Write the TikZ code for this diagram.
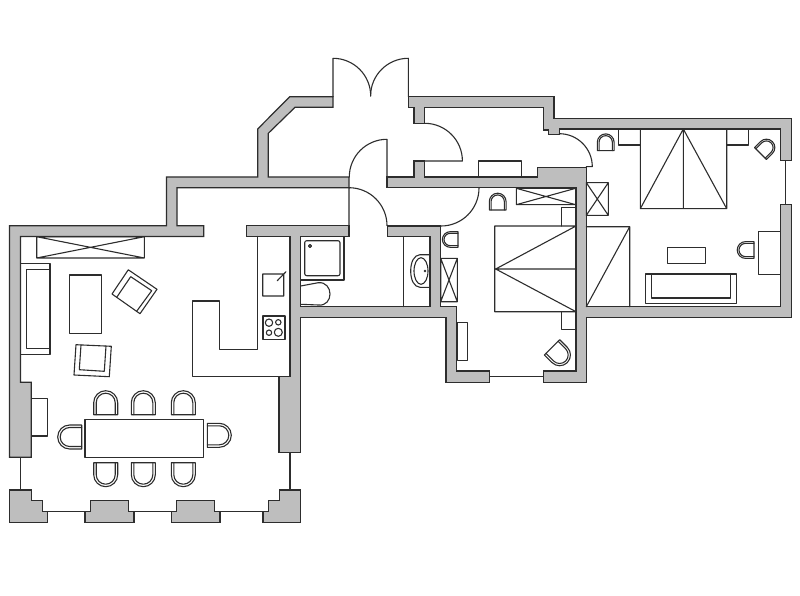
\documentclass[tikz,border=0pt]{standalone}
\definecolor{wallgray}{RGB}{190,190,190}
\definecolor{inkline}{RGB}{45,45,45}
\tikzset{
	wall/.style={draw=inkline,fill=wallgray,line width=1.2pt,line join=miter},
	furn/.style={draw=inkline,line width=1.1pt},
	chair/.pic={
		\draw [furn,fill=white] (-12,0)--(-12,-12) arc (180:360:12)--(12,0)--cycle;
		\draw [furn] (-9.5,0)--(-9.5,-12) arc (180:360:9.5)--(9.5,0);
	}
}
\begin{document}
\begin{tikzpicture}[x=1pt,y=-1pt,line join=round,line cap=round]
	\useasboundingbox (0,0) rectangle (800,596);
	% glass lines
	\draw [furn] (20.3,457.3)--(20.3,490) (290,452.3)--(290,490) (785.7,160.7)--(785.7,204.3);
	\draw [furn] (47.7,511.7)--(85,511.7) (134,511.7)--(171.3,511.7) (220,511.7)--(263,511.7) (489.3,376.7)--(543.3,376.7);
	% walls
	\draw [wall] (333,96.7)--(289.7,96.7)--(257.7,129)--(257.7,177)--(166.5,177)--(166.5,225.7)--(9.5,225.7)--(9.5,457.3)--(31.3,457.3)--(31.3,382.3)--(20.5,382.3)--(20.5,236.5)--(203.7,236.5)--(203.7,225.7)--(177,225.7)--(177,187.7)--(349,187.7)--(349,177)--(268.3,177)--(268.3,133.3)--(295,107.3)--(333,107.3)--cycle;
	\draw [wall] (246.7,225.7)--(349,225.7)--(349,236.5)--(300.7,236.5)--(300.7,306.7)--(430,306.7)--(430,236.7)--(387.3,236.7)--(387.3,226)--(440.7,226)--(440.7,306.7)--(456.7,306.7)--(456.7,371)--(489.3,371)--(489.3,382.3)--(446,382.3)--(446,317.3)--(300.7,317.3)--(300.7,452.3)--(279,452.3)--(279,376.7)--(290,376.7)--(290,236.5)--(246.7,236.5)--cycle;
	\draw [wall] (387,177)--(414,177)--(414,161)--(424.7,161)--(424.7,177)--(537.7,177)--(537.7,167.3)--(586.3,167.3)--(586.3,306.7)--(780.3,306.7)--(780.3,204.3)--(791.3,204.3)--(791.3,317.3)--(586.3,317.3)--(586.3,382.3)--(543.3,382.3)--(543.3,371)--(576,371)--(576,187.7)--(387,187.7)--cycle;
	\draw [wall] (408.3,96.3)--(554,96.3)--(554,118.3)--(791.3,118.3)--(791.3,160.7)--(780.3,160.7)--(780.3,129)--(559.3,129)--(559.3,134.3)--(548.3,134.3)--(548.3,130)--(543.3,130)--(543.3,107.3)--(424.7,107.3)--(424.7,123.3)--(414,123.3)--(414,107.3)--(408.3,107.3)--cycle;
	% piers
	\draw [wall] (9.3,490)--(31.3,490)--(31.3,500.7)--(42.3,500.7)--(42.3,511.7)--(47.7,511.7)--(47.7,522.3)--(9.3,522.3)--cycle;
	\draw [wall] (85,522.3)--(85,511.7)--(90.3,511.7)--(90.3,500.7)--(128.7,500.7)--(128.7,511.7)--(134,511.7)--(134,522.3)--cycle;
	\draw [wall] (171.3,522.3)--(171.3,511.7)--(176.7,511.7)--(176.7,500.7)--(214.7,500.7)--(214.7,511.7)--(220,511.7)--(220,522.3)--cycle;
	\draw [wall] (263,522.3)--(263,511.7)--(268.3,511.7)--(268.3,500.7)--(279.3,500.7)--(279.3,490)--(300.7,490)--(300.7,522.3)--cycle;
	% doors
	\draw [furn] (333,96.7)--(333,58.3) arc (-90:0:37.7);
	\draw [furn] (408.3,96.7)--(408.3,58.3) arc (-90:-180:37.7);
	\draw [furn] (387,177)--(387,139.3) arc (-90:-180:37.7);
	\draw [furn] (349,226)--(349,187.7) arc (-90:0:38);
	\draw [furn] (424.7,161)--(462.4,161) arc (0:-90:37.7);
	\draw [furn] (586.3,166.7)--(592.3,166.7) arc (0:-90:33);
	\draw [furn] (441,188) ++(38,0) arc (0:90:38);
	% living room
	\draw [furn] (36.7,236.7) rectangle (144.3,258) (36.7,236.7)--(144.3,258) (36.7,258)--(144.3,236.7);
	\draw [furn] (20.7,263.3) rectangle (50,354.3) (50,269.3)--(26.3,269.3)--(26.3,348.3)--(50,348.3);
	\draw [furn] (69.3,275) rectangle (101.3,333.7);
	\draw [furn] (128.3,269.8)--(157,289.3)--(140,313.7)--(112,294)--cycle;
	\draw [furn] (130.7,276.7)--(151.7,290.7)--(136.5,311.5) (130.7,276.7)--(116.7,297.3);
	\draw [furn] (76,344.7)--(111.3,346.3)--(109.3,376.7)--(74,375)--cycle;
	\draw [furn] (81,345)--(79.3,369.7)--(104.3,371.3)--(106,346);
	\draw [furn] (31.3,398.3) rectangle (47.7,436);
	% kitchen
	\draw [furn] (257.7,236.5)--(257.7,349.7)--(219.7,349.7)--(219.7,301)--(192.7,301)--(192.7,376.7)--(279,376.7);
	\draw [furn] (262.7,274) rectangle (283.7,296) (277.3,280.7)--(286,271.7);
	\draw [furn] (263,316) rectangle (285,339.3);
	\draw [furn] (269,322.7) circle (3.7) (278.3,322.3) circle (2.7) (269,332.7) circle (2.7) (278.3,332.3) circle (4);
	% dining table
	\draw [furn] (85,419.7) rectangle (203.7,457.7);
	\foreach \cx in {105.7,143.3,183.3}{
		\pic at (\cx,414.7) {chair};
		\pic [rotate=180] at (\cx,462.7) {chair};
	}
	\pic [rotate=90] at (81.7,437) {chair};
	\pic [rotate=-90] at (207.3,435.3) {chair};
	% bath
	\draw [furn] (300.7,236.7) rectangle (344,280);
	\draw [furn,rounded corners=2pt] (304.7,240.7) rectangle (340,275.7);
	\draw [furn] (310,246) circle (1.5);
	\draw [furn] (300.7,286)--(318.3,282.7) .. controls (326,282) and (330,288) .. (330,294) .. controls (330,300) and (326,306) .. (318.3,305)--(300.7,304.3);
	\draw [furn] (403.3,236.7)--(403.3,306.7);
	\draw [furn] (430,254.7)--(420,254.7) .. controls (414,255) and (410.7,262) .. (410.7,271) .. controls (410.7,280) and (414,287) .. (420,287.3)--(430,287.3);
	\draw [furn] (421,271) ellipse (7 and 13.3);
	\fill [inkline] (425,271) circle (1.3);
	% middle bedroom
	\pic [rotate=90,scale=.65] at (458,239.5) {chair};
	\draw [furn] (440.7,258.3) rectangle (457.3,301.7) (440.7,258.3)--(457.3,301.7) (457.3,258.3)--(440.7,301.7);
	\draw [furn] (457.3,322.7) rectangle (467.7,360.7);
	\draw [furn] (494.7,226) rectangle (576,311.7) (576,226)--(495.7,269)--(576,311.7) (495.7,269)--(576,269);
	\draw [furn] (561.7,226)--(561.7,207.7)--(576,207.7) (561.7,311.7)--(561.7,329.3)--(576,329.3);
	\pic [rotate=-135,scale=.9] at (552,347.3) {chair};
	\draw [furn] (516.3,188.3) rectangle (575.7,204.7) (516.3,188.3)--(575.7,204.7) (516.3,204.7)--(575.7,188.3);
	\pic [scale=.7] at (497.7,210) {chair};
	% hall
	\draw [furn] (478.7,177.3)--(478.7,161)--(521.7,161)--(521.7,177.3);
	% right bedroom
	\draw [furn] (618.7,129)--(618.7,145)--(640.3,145) (748.3,129)--(748.3,145)--(726.7,145);
	\draw [furn] (640.3,129) rectangle (726.7,208.7) (683.3,129)--(683.3,208.7) (640.3,208.7)--(683.3,129)--(726.7,208.7);
	\pic [scale=.7] at (605.7,150.7) {chair};
	\pic [rotate=-45,scale=.7] at (760.5,153.5) {chair};
	\draw [furn] (586.3,182.7) rectangle (608.3,215.3) (586.3,182.7)--(608.3,215.3) (586.3,215.3)--(608.3,182.7);
	\draw [furn] (586.3,226.7)--(629.7,226.7)--(629.7,306.7) (629.7,226.7)--(586.3,306.7);
	\draw [furn] (758.7,231.3) rectangle (780.3,274.3);
	\pic [rotate=90,scale=.7] at (754,250) {chair};
	\draw [furn] (667.3,247.3) rectangle (705.3,263.7);
	\draw [furn] (645.7,274) rectangle (736.3,303.7) (651.3,274)--(651.3,298)--(730.7,298)--(730.7,274);
\end{tikzpicture}
\end{document}
